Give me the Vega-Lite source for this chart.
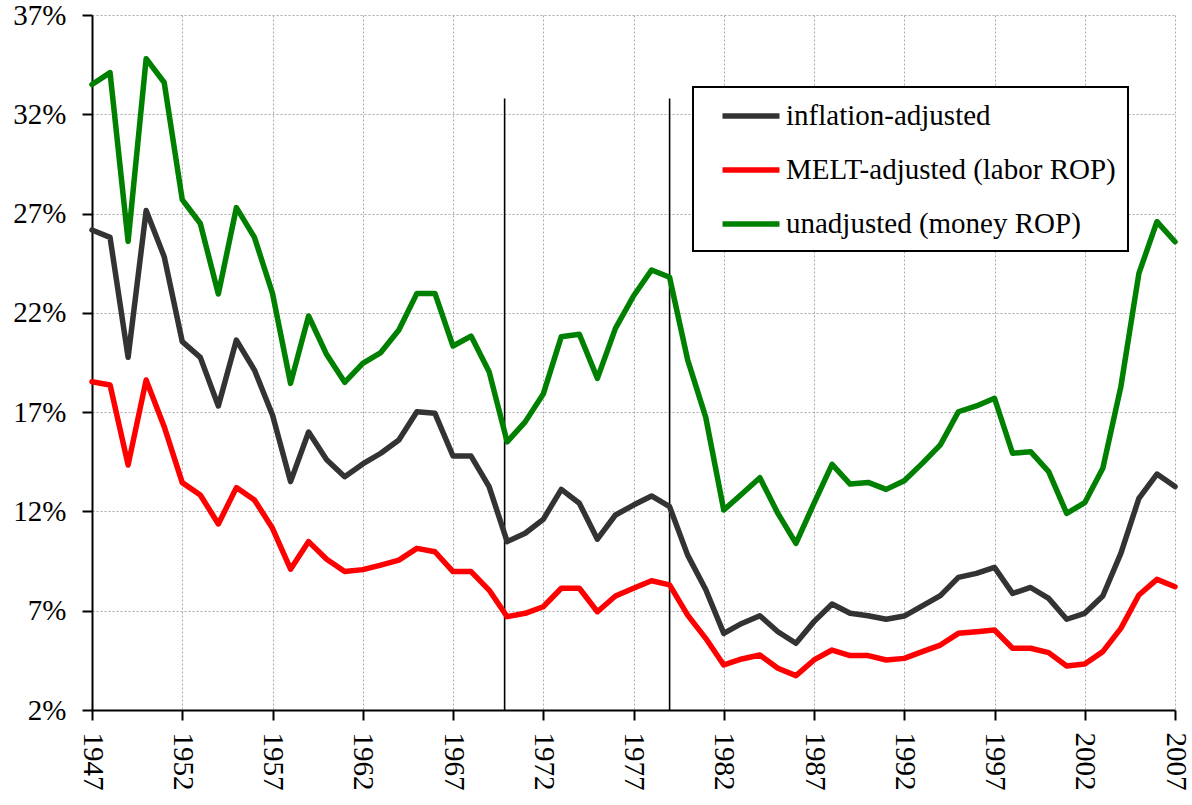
{
  "$schema": "https://vega.github.io/schema/vega-lite/v6.json",
  "width": 1083,
  "height": 695,
  "autosize": {"type": "none"},
  "padding": {"left": 92, "top": 15, "right": 17, "bottom": 95},
  "background": "white",
  "config": {"view": {"stroke": null}, "font": "Liberation Serif", "legend": {"strokeWidth": 2}},
  "encoding": {
    "x": {
      "field": "year", "type": "quantitative",
      "scale": {"domain": [1947, 2007], "nice": false, "zero": false},
      "axis": {
        "title": null, "values": [1947, 1952, 1957, 1962, 1967, 1972, 1977, 1982, 1987, 1992, 1997, 2002, 2007],
        "format": "d", "labelAngle": 90, "labelAlign": "left", "labelBaseline": "middle",
        "labelFont": "Liberation Serif", "labelFontSize": 29, "labelColor": "black", "labelPadding": 12,
        "tickSize": 10, "tickWidth": 2, "tickColor": "black", "domainColor": "black", "domainWidth": 2,
        "grid": true, "gridDash": [2, 2], "gridColor": "#aaaaaa", "gridWidth": 1, "labelFlush": false, "labelOverlap": false
      }
    },
    "y": {
      "field": "value", "type": "quantitative",
      "scale": {"domain": [2, 37], "nice": false, "zero": false},
      "axis": {
        "title": null, "values": [2, 7, 12, 17, 22, 27, 32, 37],
        "labelExpr": "datum.value + '%'",
        "labelFont": "Liberation Serif", "labelFontSize": 29, "labelColor": "black", "labelPadding": 16,
        "tickSize": 10, "tickWidth": 2, "tickColor": "black", "domainColor": "black", "domainWidth": 2,
        "grid": true, "gridDash": [2, 2], "gridColor": "#aaaaaa", "gridWidth": 1, "labelFlush": false, "labelOverlap": false
      }
    }
  },
  "layer": [
    {
      "data": {"values": [
        {"year": 1969.86, "value": 2, "top": 32.8},
        {"year": 1979.0, "value": 2, "top": 32.8}
      ]},
      "mark": {"type": "rule", "color": "black", "strokeWidth": 1.6},
      "encoding": {"y2": {"field": "top"}}
    },
    {
      "data": {"values": [
        {"year": 1947, "inf": 26.17, "melt": 18.53, "unadj": 33.5},
        {"year": 1948, "inf": 25.8, "melt": 18.37, "unadj": 34.1},
        {"year": 1949, "inf": 19.76, "melt": 14.34, "unadj": 25.6},
        {"year": 1950, "inf": 27.15, "melt": 18.62, "unadj": 34.8},
        {"year": 1951, "inf": 24.83, "melt": 16.27, "unadj": 33.6},
        {"year": 1952, "inf": 20.55, "melt": 13.45, "unadj": 27.7},
        {"year": 1953, "inf": 19.76, "melt": 12.83, "unadj": 26.5},
        {"year": 1954, "inf": 17.31, "melt": 11.37, "unadj": 22.95},
        {"year": 1955, "inf": 20.63, "melt": 13.2, "unadj": 27.3},
        {"year": 1956, "inf": 19.12, "melt": 12.58, "unadj": 25.8},
        {"year": 1957, "inf": 16.86, "melt": 11.15, "unadj": 22.98},
        {"year": 1958, "inf": 13.5, "melt": 9.09, "unadj": 18.45},
        {"year": 1959, "inf": 16.0, "melt": 10.48, "unadj": 21.84},
        {"year": 1960, "inf": 14.6, "melt": 9.59, "unadj": 19.9},
        {"year": 1961, "inf": 13.75, "melt": 8.97, "unadj": 18.5},
        {"year": 1962, "inf": 14.39, "melt": 9.07, "unadj": 19.46},
        {"year": 1963, "inf": 14.93, "melt": 9.3, "unadj": 20.0},
        {"year": 1964, "inf": 15.6, "melt": 9.55, "unadj": 21.14},
        {"year": 1965, "inf": 17.02, "melt": 10.14, "unadj": 22.98},
        {"year": 1966, "inf": 16.94, "melt": 9.97, "unadj": 22.98},
        {"year": 1967, "inf": 14.79, "melt": 8.97, "unadj": 20.33},
        {"year": 1968, "inf": 14.79, "melt": 8.97, "unadj": 20.83},
        {"year": 1969, "inf": 13.25, "melt": 8.04, "unadj": 19.04},
        {"year": 1970, "inf": 10.48, "melt": 6.7, "unadj": 15.5},
        {"year": 1971, "inf": 10.9, "melt": 6.87, "unadj": 16.51},
        {"year": 1972, "inf": 11.6, "melt": 7.2, "unadj": 17.91},
        {"year": 1973, "inf": 13.11, "melt": 8.13, "unadj": 20.8},
        {"year": 1974, "inf": 12.41, "melt": 8.13, "unadj": 20.92},
        {"year": 1975, "inf": 10.6, "melt": 6.95, "unadj": 18.7},
        {"year": 1976, "inf": 11.82, "melt": 7.74, "unadj": 21.22},
        {"year": 1977, "inf": 12.32, "melt": 8.13, "unadj": 22.85},
        {"year": 1978, "inf": 12.78, "melt": 8.51, "unadj": 24.16},
        {"year": 1979, "inf": 12.24, "melt": 8.3, "unadj": 23.79},
        {"year": 1980, "inf": 9.8, "melt": 6.78, "unadj": 19.63},
        {"year": 1981, "inf": 8.07, "melt": 5.61, "unadj": 16.75},
        {"year": 1982, "inf": 5.86, "melt": 4.27, "unadj": 12.07},
        {"year": 1983, "inf": 6.36, "melt": 4.57, "unadj": 12.88},
        {"year": 1984, "inf": 6.75, "melt": 4.77, "unadj": 13.7},
        {"year": 1985, "inf": 5.94, "melt": 4.1, "unadj": 11.9},
        {"year": 1986, "inf": 5.36, "melt": 3.73, "unadj": 10.39},
        {"year": 1987, "inf": 6.45, "melt": 4.52, "unadj": 12.41},
        {"year": 1988, "inf": 7.34, "melt": 5.02, "unadj": 14.37},
        {"year": 1989, "inf": 6.87, "melt": 4.74, "unadj": 13.38},
        {"year": 1990, "inf": 6.75, "melt": 4.74, "unadj": 13.46},
        {"year": 1991, "inf": 6.57, "melt": 4.52, "unadj": 13.11},
        {"year": 1992, "inf": 6.73, "melt": 4.6, "unadj": 13.55},
        {"year": 1993, "inf": 7.24, "melt": 4.94, "unadj": 14.42},
        {"year": 1994, "inf": 7.76, "melt": 5.27, "unadj": 15.35},
        {"year": 1995, "inf": 8.68, "melt": 5.86, "unadj": 17.02},
        {"year": 1996, "inf": 8.88, "melt": 5.94, "unadj": 17.31},
        {"year": 1997, "inf": 9.18, "melt": 6.03, "unadj": 17.7},
        {"year": 1998, "inf": 7.87, "melt": 5.11, "unadj": 14.93},
        {"year": 1999, "inf": 8.17, "melt": 5.11, "unadj": 15.01},
        {"year": 2000, "inf": 7.62, "melt": 4.89, "unadj": 14.0},
        {"year": 2001, "inf": 6.57, "melt": 4.22, "unadj": 11.9},
        {"year": 2002, "inf": 6.87, "melt": 4.32, "unadj": 12.44},
        {"year": 2003, "inf": 7.74, "melt": 4.94, "unadj": 14.17},
        {"year": 2004, "inf": 9.89, "melt": 6.11, "unadj": 18.28},
        {"year": 2005, "inf": 12.66, "melt": 7.79, "unadj": 23.99},
        {"year": 2006, "inf": 13.88, "melt": 8.58, "unadj": 26.59},
        {"year": 2007, "inf": 13.25, "melt": 8.21, "unadj": 25.58}
      ]},
      "transform": [{"fold": ["inf", "melt", "unadj"], "as": ["series", "value"]}],
      "mark": {"type": "line", "strokeWidth": 5.5, "strokeJoin": "round", "strokeCap": "round"},
      "encoding": {
        "color": {
          "field": "series", "type": "nominal",
          "scale": {"domain": ["inf", "melt", "unadj"], "range": ["#333333", "#ff0000", "#008000"]},
          "legend": {
            "title": null, "orient": "none", "legendX": 601, "legendY": 72,
            "labelExpr": "datum.value == 'inf' ? 'inflation-adjusted' : datum.value == 'melt' ? 'MELT-adjusted (labor ROP)' : 'unadjusted (money ROP)'",
            "symbolType": "M-2,0H2", "symbolSize": 812, "symbolStrokeWidth": 5.5,
            "labelFont": "Liberation Serif", "labelFontSize": 29, "labelColor": "black", "labelLimit": 500,
            "padding": 12, "symbolOffset": 29, "labelOffset": 18, "rowPadding": 22,
            "strokeColor": "black", "fillColor": "white"
          }
        }
      }
    }
  ]
}
